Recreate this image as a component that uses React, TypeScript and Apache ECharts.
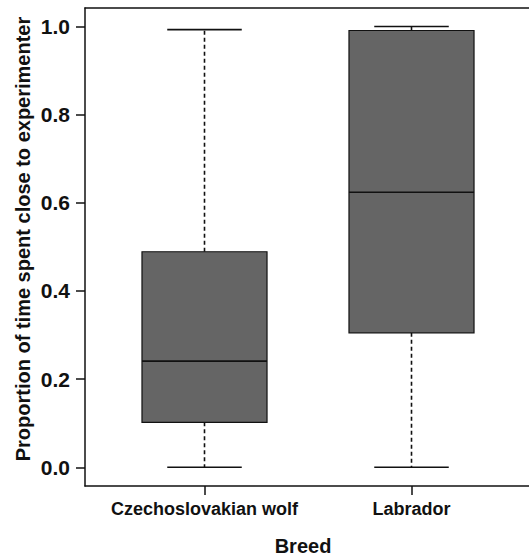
import React, { useEffect, useRef } from "react";
import * as echarts from "echarts";

const categories = ["Czechoslovakian wolf", "Labrador"];
const lowerWhisker = [0.0, 0.0];
const firstQuartile = [0.102, 0.305];
const medians = [0.241, 0.624];
const thirdQuartile = [0.489, 0.991];
const upperWhisker = [0.993, 1.0];
const yTicks = [0, 0.2, 0.4, 0.6, 0.8, 1.0];
const xPositions = [1, 2];

const BOX_HALF = 0.302;
const CAP_HALF = 0.18;
const X_MIN = 0.4227;
const X_MAX = 2.5676;
const Y_MIN = -0.0424;
const Y_MAX = 1.042;
const FONT = "Arial, 'Liberation Sans', Helvetica, sans-serif";

export default function App() {
  const ref = useRef<HTMLDivElement>(null);
  useEffect(() => {
    if (!ref.current) return;
    const chart = echarts.init(ref.current, null, { renderer: "svg" });
    const data = categories.map((_, i) => [
      xPositions[i],
      lowerWhisker[i],
      firstQuartile[i],
      medians[i],
      thirdQuartile[i],
      upperWhisker[i],
    ]);
    const black = "#111111";
    chart.setOption({
      animation: false,
      backgroundColor: "#ffffff",
      grid: { left: 85, right: 0, top: 8, bottom: 71, containLabel: false, outerBoundsMode: "none" },
      xAxis: [
        {
          type: "value",
          position: "bottom",
          min: X_MIN,
          max: X_MAX,
          splitLine: { show: false },
          axisLine: { show: true, onZero: false, lineStyle: { color: black, width: 1.5 } },
          axisTick: { show: true, customValues: xPositions, length: 9, lineStyle: { color: black, width: 1.5 } },
          axisLabel: {
            show: true,
            customValues: xPositions,
            formatter: (v: number) => categories[Math.round(v) - 1] ?? "",
            fontSize: 18,
            fontWeight: "bold",
            fontFamily: FONT,
            color: black,
            margin: 14,
          },
          name: "Breed",
          nameLocation: "middle",
          nameGap: 50,
          nameMoveOverlap: false,
          nameTextStyle: { fontSize: 20, fontWeight: "bold", fontFamily: FONT, color: black, padding: [0, 8, 0, 0] },
        },
        {
          type: "value",
          position: "top",
          min: X_MIN,
          max: X_MAX,
          splitLine: { show: false },
          axisLine: { show: true, onZero: false, lineStyle: { color: black, width: 1.5 } },
          axisTick: { show: false },
          axisLabel: { show: false },
        },
      ],
      yAxis: {
        type: "value",
        min: Y_MIN,
        max: Y_MAX,
        splitLine: { show: false },
        axisLine: { show: true, onZero: false, lineStyle: { color: black, width: 1.5 } },
        axisTick: { show: true, customValues: yTicks, length: 9, lineStyle: { color: black, width: 1.5 } },
        axisLabel: {
          show: true,
          customValues: yTicks,
          formatter: (v: number) => v.toFixed(1),
          fontSize: 21,
          fontWeight: "bold",
          fontFamily: FONT,
          color: black,
          margin: 15,
        },
        name: "Proportion of time spent close to experimenter",
        nameLocation: "middle",
        nameRotate: 90,
        nameGap: 52,
        nameMoveOverlap: false,
        nameTextStyle: { fontSize: 20, fontWeight: "bold", fontFamily: FONT, color: black, padding: [0, 0, 0, 16] },
      },
      series: [
        {
          type: "custom",
          xAxisIndex: 0,
          yAxisIndex: 0,
          data,
          clip: false,
          renderItem: (params: any, api: any) => {
            const x = api.value(0);
            const lo = api.value(1);
            const q1 = api.value(2);
            const med = api.value(3);
            const q3 = api.value(4);
            const hi = api.value(5);
            const tl = api.coord([x - BOX_HALF, q3]);
            const br = api.coord([x + BOX_HALF, q1]);
            const mL = api.coord([x - BOX_HALF, med]);
            const mR = api.coord([x + BOX_HALF, med]);
            const c = api.coord([x, 0]);
            const yLo = api.coord([x, lo])[1];
            const yHi = api.coord([x, hi])[1];
            const capL = api.coord([x - CAP_HALF, 0])[0];
            const capR = api.coord([x + CAP_HALF, 0])[0];
            const line = (x1: number, y1: number, x2: number, y2: number, dash?: number[]) => ({
              type: "line",
              shape: { x1, y1, x2, y2 },
              style: { stroke: black, lineWidth: 1.6, lineDash: dash || null, fill: null },
            });
            return {
              type: "group",
              children: [
                line(c[0], tl[1], c[0], yHi, [4, 3]),
                line(c[0], br[1], c[0], yLo, [4, 3]),
                line(capL, yHi, capR, yHi),
                line(capL, yLo, capR, yLo),
                {
                  type: "rect",
                  shape: { x: tl[0], y: tl[1], width: br[0] - tl[0], height: br[1] - tl[1] },
                  style: { fill: "#656565", stroke: black, lineWidth: 1.2 },
                },
                line(mL[0], mL[1], mR[0], mR[1]),
              ],
            };
          },
        },
      ],
    });
    return () => chart.dispose();
  }, []);
  return (
    <div
      ref={ref}
      style={{ position: "fixed", left: 0, top: 0, width: 529, height: 557, background: "#fff" }}
    />
  );
}
